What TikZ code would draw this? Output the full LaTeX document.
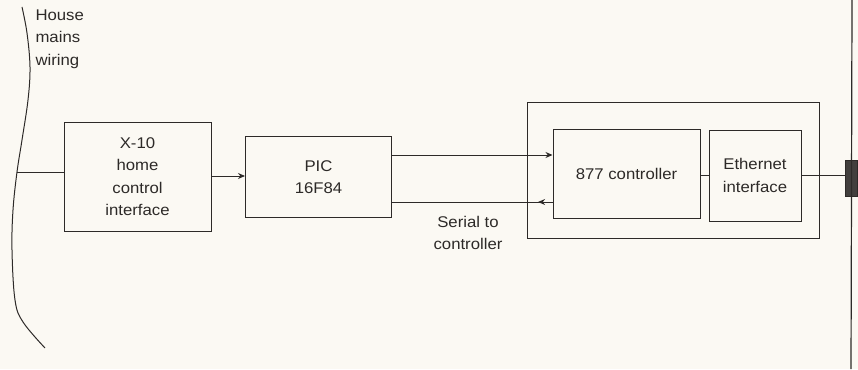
\documentclass[tikz,border=0pt]{standalone}
\usepackage{fontspec}
\setmainfont{Liberation Sans}[FakeStretch=1.08]
\usetikzlibrary{arrows.meta,decorations.markings}
\definecolor{ink}{RGB}{45,42,40}
\definecolor{paper}{RGB}{251,249,243}
\begin{document}
\begin{tikzpicture}[x=1pt,y=-1pt,
  every node/.style={font=\fontsize{15.5}{22.5}\selectfont, text=ink},
  blk/.style={draw=ink, line width=1pt, inner sep=0pt, align=center},
  wire/.style={draw=ink, line width=1pt},
  tip/.style={-{Stealth[length=7pt,width=6pt]}}]
\fill[paper] (0,0) rectangle (858,369);
\useasboundingbox (0,0) rectangle (858,369);
% mains wiring curve
\draw[wire] plot[smooth, tension=0.6] coordinates {(22,7) (27,33) (30,67) (28,100) (22,140) (17,172) (13,210) (12,250) (15,300) (23,322) (45,348)};
\coordinate (tap) at (17,172);
\node[anchor=north west, align=left] (mains) at (32,6) {House\\mains\\wiring};
% boxes
\node[blk, minimum width=147pt, minimum height=109pt] (x10) at (137.5,176.5) {X-10\\home\\control\\interface};
\node[blk, minimum width=146pt, minimum height=81pt] (pic) at (318.5,177) {PIC\\16F84};
\node[blk, minimum width=292pt, minimum height=136pt] (outer) at (673,170.5) {};
\node[blk, minimum width=147pt, minimum height=89pt] (ctrl) at (626.5,173.5) {877 controller};
\node[blk, minimum width=92pt, minimum height=91pt] (eth) at (755,175.5) {Ethernet\\interface};
\node[draw=ink, fill=ink!90, minimum width=12pt, minimum height=36pt, inner sep=0pt] (conn) at (851,178) {};
\coordinate (netTop) at (852,0);
\coordinate (netBot) at (851,369);
\draw[wire, line width=1.2pt] (netTop) -- (netBot);
% connectors
\draw[wire] (tap) -- (x10.west |- tap);
\draw[wire, tip] (x10.east |- 0,176) -- (pic.west |- 0,176);
\draw[wire, tip] (pic.east |- 0,155) -- (ctrl.west |- 0,155);
\draw[wire, postaction={decorate}, decoration={markings, mark=at position 0.09 with {\arrow{Stealth[length=7pt,width=6pt]}}}] (ctrl.west |- 0,202) -- (pic.east |- 0,202);
\draw[wire] (ctrl.east |- 0,175) -- (eth.west |- 0,175);
\draw[wire] (eth.east |- 0,175) -- (conn.west |- 0,175);
\node[align=center] (serial) at (468,233) {Serial to\\controller};
\end{tikzpicture}
\end{document}
